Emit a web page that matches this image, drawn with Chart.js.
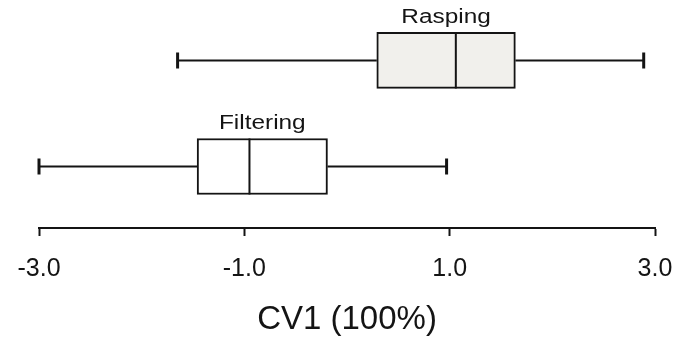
<!DOCTYPE html>
<html>
<head>
<meta charset="UTF-8" />
<title>CV1 box plot</title>
<style>
  html, body { margin: 0; padding: 0; background: #fff; }
  #wrap { width: 681px; height: 341px; }
</style>
</head>
<body>
<div id="wrap"><canvas id="chart"></canvas></div>

<script src="https://cdn.jsdelivr.net/npm/chart.js"></script>
<script>
  // five-number summaries per feeding mode, CV1 scores
  const groups = ["Rasping", "Filtering"];
  const whiskerLow = [-1.65, -3.0];
  const q1 = [0.29, -1.46];
  const median = [1.06, -0.95];
  const q3 = [1.64, -0.19];
  const whiskerHigh = [2.89, 0.97];
  const xTicks = [-3, -1, 1, 3];

  const ink = "#141414";
  const font = "'Liberation Sans', Arial, sans-serif";

  // whiskers, caps, medians and group names on top of the boxes
  const boxExtras = {
    id: "boxExtras",
    afterDatasetsDraw(chart) {
      const ctx = chart.ctx;
      const xs = chart.scales.x;
      const meta = chart.getDatasetMeta(0);
      ctx.save();
      ctx.strokeStyle = ink;
      meta.data.forEach((bar, i) => {
        const y = bar.y;
        const half = bar.height / 2;
        const lo = xs.getPixelForValue(whiskerLow[i]);
        const hi = xs.getPixelForValue(whiskerHigh[i]);
        const a = xs.getPixelForValue(q1[i]);
        const b = xs.getPixelForValue(q3[i]);
        const m = xs.getPixelForValue(median[i]);

        ctx.lineWidth = 2;
        ctx.beginPath();
        ctx.moveTo(lo, y); ctx.lineTo(a, y);
        ctx.moveTo(b, y); ctx.lineTo(hi, y);
        ctx.moveTo(m, y - half); ctx.lineTo(m, y + half);
        ctx.stroke();

        ctx.lineWidth = 3;
        ctx.beginPath();
        ctx.moveTo(lo, y - 8); ctx.lineTo(lo, y + 8);
        ctx.moveTo(hi, y - 8); ctx.lineTo(hi, y + 8);
        ctx.stroke();

        // group name, drawn a little wide like the rest of the lettering
        ctx.save();
        ctx.translate((a + b) / 2, y - half - 9);
        ctx.scale(1.22, 1);
        ctx.fillStyle = ink;
        ctx.font = "20px " + font;
        ctx.textAlign = "center";
        ctx.textBaseline = "alphabetic";
        ctx.fillText(groups[i], 0, 0);
        ctx.restore();
      });
      ctx.restore();
    }
  };

  new Chart(document.getElementById("chart"), {
    type: "bar",
    data: {
      datasets: [{
        data: groups.map((g, i) => ({ x: [q1[i], q3[i]], y: i + 1 })),
        backgroundColor: ["#f1f0ec", "#ffffff"],
        borderColor: ink,
        borderWidth: 2,
        borderSkipped: false,
        barThickness: 56
      }]
    },
    options: {
      indexAxis: "y",
      responsive: true,
      maintainAspectRatio: false,
      animation: false,
      layout: { padding: { left: 39, right: 26, top: 0, bottom: 5 } },
      plugins: {
        legend: { display: false },
        tooltip: { enabled: false }
      },
      scales: {
        y: {
          type: "linear",
          display: false,
          offset: false,
          reverse: true,
          min: 0.43,
          max: 2.58
        },
        x: {
          type: "linear",
          min: -3,
          max: 3,
          afterBuildTicks: (scale) => { scale.ticks = xTicks.map(v => ({ value: v })); },
          border: { display: true, color: ink, width: 2 },
          grid: {
            drawOnChartArea: false,
            drawTicks: true,
            tickLength: 8,
            tickWidth: 2,
            tickColor: ink
          },
          ticks: {
            color: ink,
            padding: 8,
            font: { family: font, size: 25, lineHeight: 2.0 },
            maxRotation: 0,
            callback: (v) => Number(v).toFixed(1)
          },
          title: {
            display: true,
            text: "CV1 (100%)",
            color: ink,
            padding: { top: 1, bottom: 0 },
            font: { family: font, size: 33, lineHeight: 1.0 }
          }
        }
      }
    },
    plugins: [boxExtras]
  });
</script>
</body>
</html>
